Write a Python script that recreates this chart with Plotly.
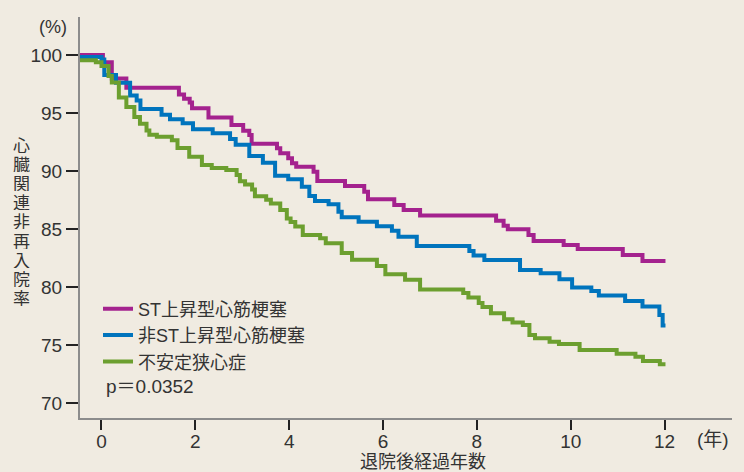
import plotly.graph_objects as go

# ---- data (years after discharge, % free of readmission) ----
t_start = -0.46
t_end = 12.02

names = ["ST上昇型心筋梗塞", "非ST上昇型心筋梗塞", "不安定狭心症"]
colors = ["#A4228E", "#0074BD", "#6C9F2F"]

start_st = 100.0
times_st = [0.03, 0.22, 0.53, 1.65, 1.76, 1.88, 1.93, 2.28, 2.77, 3.02, 3.15, 3.20,
            3.74, 3.81, 3.98, 4.06, 4.15, 4.52, 4.60, 5.19, 5.60, 5.68, 6.24, 6.44,
            6.79, 8.41, 8.57, 8.66, 9.10, 9.21, 9.85, 10.15, 11.11, 11.53]
surv_st = [99.37, 97.97, 97.18, 96.59, 96.23, 95.91, 95.41, 94.61, 93.97, 93.47, 93.10, 92.35,
           91.96, 91.53, 91.09, 90.66, 90.37, 89.94, 89.14, 88.71, 88.22, 87.56, 87.07, 86.64,
           86.16, 85.72, 85.28, 84.97, 84.48, 83.97, 83.62, 83.28, 82.76, 82.24]

start_nst = 99.83
times_nst = [0.00, 0.06, 0.31, 0.61, 0.75, 0.83, 1.28, 1.46, 1.73, 1.95, 2.37, 2.74, 2.86,
             3.15, 3.44, 3.70, 3.98, 4.27, 4.43, 4.55, 4.84, 5.05, 5.12, 5.48, 5.87, 6.19,
             6.33, 6.72, 7.84, 7.93, 8.16, 8.92, 9.36, 9.76, 10.03, 10.44, 10.60, 11.16,
             11.53, 11.89, 11.96]
surv_nst = [99.61, 98.28, 97.61, 96.51, 96.08, 95.34, 94.85, 94.46, 94.11, 93.59, 93.25, 92.76, 92.27,
            91.29, 90.72, 89.59, 89.28, 88.65, 87.84, 87.41, 87.13, 86.49, 86.01, 85.63, 85.23, 84.85,
            84.34, 83.53, 83.10, 82.72, 82.33, 81.47, 81.18, 80.66, 79.96, 79.66, 79.27, 78.79,
            78.32, 77.59, 76.68]

start_ua = 99.54
times_ua = [-0.12, 0.00, 0.15, 0.22, 0.37, 0.53, 0.70, 0.82, 0.96, 1.02, 1.18, 1.50, 1.62, 1.87,
            2.14, 2.35, 2.66, 2.88, 2.95, 3.06, 3.21, 3.27, 3.51, 3.61, 3.81, 3.95, 4.03, 4.13,
            4.29, 4.66, 4.78, 5.12, 5.34, 5.87, 6.05, 6.47, 6.79, 7.71, 7.82, 8.04, 8.12, 8.30,
            8.58, 8.76, 8.98, 9.12, 9.24, 9.55, 9.75, 10.19, 10.98, 11.38, 11.54, 11.90]
surv_ua = [99.37, 99.05, 98.19, 97.63, 96.34, 95.52, 94.66, 94.08, 93.49, 93.13, 92.96, 92.65, 91.98, 91.23,
           90.52, 90.26, 90.09, 89.66, 89.11, 88.84, 88.41, 87.82, 87.53, 87.20, 86.64, 85.91, 85.60, 85.22,
           84.48, 84.20, 83.77, 82.93, 82.35, 81.81, 81.09, 80.63, 79.78, 79.48, 79.09, 78.62, 78.28, 77.73,
           77.22, 76.94, 76.72, 75.86, 75.58, 75.28, 75.09, 74.57, 74.25, 73.99, 73.62, 73.34]

x_ticks = [0, 2, 4, 6, 8, 10, 12]
y_ticks = [70, 75, 80, 85, 90, 95, 100]
y_title = "心臓関連非再入院率"
x_title = "退院後経過年数"
p_text = "p＝0.0352"

# ---- figure ----
BG = "#F0EBE1"
LAT = "Liberation Sans, Arial, Noto Sans CJK JP, sans-serif"
CJK = "Noto Sans CJK JP, sans-serif"
MIX = "Liberation Sans, Noto Sans CJK JP, sans-serif"

fig = go.Figure()
series = [(start_st, times_st, surv_st), (start_nst, times_nst, surv_nst), (start_ua, times_ua, surv_ua)]
for i, (s0, ts, vs) in enumerate(series):
    xs = [t_start] + ts + [t_end]
    ys = [s0] + vs + [vs[-1]]
    fig.add_trace(go.Scatter(
        x=xs, y=ys, mode="lines", line=dict(color=colors[i], width=4, shape="hv"),
        name=names[i]))

L, R, T, B = 80, 12, 17, 54
W, H = 744, 472
pw, ph = W - L - R, H - T - B

def px2paper(px, py):
    return (px - L) / pw, (H - B - py) / ph

fig.update_layout(
    width=W, height=H,
    margin=dict(l=L, r=R, t=T, b=B),
    paper_bgcolor=BG, plot_bgcolor=BG,
    font=dict(family=LAT, color="#333333", size=18),
    showlegend=True,
    legend=dict(x=px2paper(98, 0)[0], y=px2paper(0, 290.5)[1], xanchor="left", yanchor="top",
                bgcolor="rgba(0,0,0,0)", borderwidth=0,
                font=dict(family=MIX, size=18, color="#333333")),
    xaxis=dict(range=[-0.458, 13.438], tickmode="array", tickvals=x_ticks,
               ticks="outside", ticklen=10, tickwidth=1.5, tickcolor="#222222",
               ticklabelstandoff=-5,
               showline=True, linecolor="#8C8C8C", linewidth=2, showgrid=False, zeroline=False,
               tickfont=dict(size=19, family=LAT, color="#333333")),
    yaxis=dict(range=[68.707, 103.276], tickmode="array", tickvals=y_ticks,
               ticks="outside", ticklen=12, tickwidth=1.5, tickcolor="#222222",
               showline=True, linecolor="#8C8C8C", linewidth=2, showgrid=False, zeroline=False,
               tickfont=dict(size=19, family=LAT, color="#333333")),
)

ann = []
# vertical y title, one character per line
for k, ch in enumerate(y_title):
    ax, ay = px2paper(21, 144 + 19.1 * k)
    ann.append(dict(x=ax, y=ay, xref="paper", yref="paper", text=ch, showarrow=False,
                    height=18, borderpad=0,
                    font=dict(family=CJK, size=17, color="#333333"), xanchor="center", yanchor="middle"))
ax, ay = px2paper(423, 460)
ann.append(dict(x=ax, y=ay, xref="paper", yref="paper", text=x_title, showarrow=False,
                font=dict(family=CJK, size=18, color="#333333"), xanchor="center", yanchor="middle"))
ax, ay = px2paper(713, 439)
ann.append(dict(x=ax, y=ay, xref="paper", yref="paper", text="(年)", showarrow=False,
                font=dict(family=LAT, size=19, color="#333333"), xanchor="center", yanchor="middle"))
ax, ay = px2paper(53, 27)
ann.append(dict(x=ax, y=ay, xref="paper", yref="paper", text="(%)", showarrow=False,
                font=dict(family=LAT, size=18, color="#333333"), xanchor="center", yanchor="middle"))
ax, ay = px2paper(104, 386)
ann.append(dict(x=ax, y=ay, xref="paper", yref="paper", text=p_text, showarrow=False,
                font=dict(family=LAT, size=19, color="#333333"), xanchor="left", yanchor="middle"))
fig.update_layout(annotations=ann)

fig.write_html("out.html", config={"displayModeBar": False},
               post_script="document.body.style.margin='0';document.body.style.background='%s';" % BG)
